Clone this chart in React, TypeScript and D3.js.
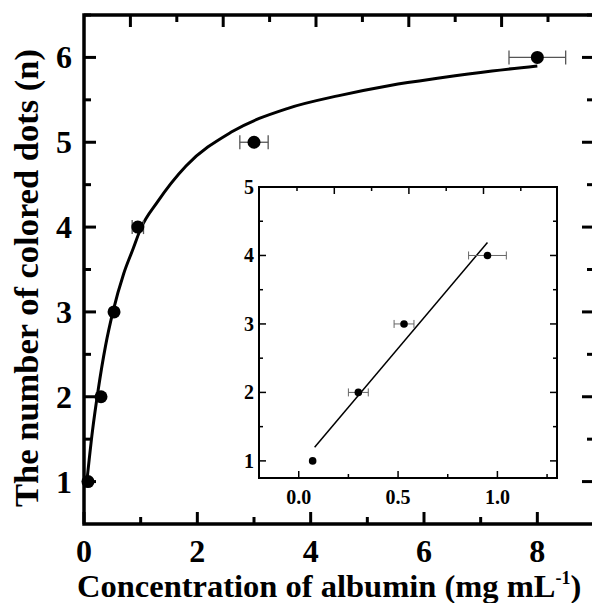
import * as d3 from 'd3'
import { useEffect, useRef } from 'react'

// main plot: measured points
const conc = [0.07, 0.3, 0.53, 0.95, 3.0, 8.0]
const dots = [1, 2, 3, 4, 5, 6]
const concErr = [0.03, 0.05, 0.05, 0.1, 0.25, 0.5]

// main plot: fitted curve
const fitX = [0.05, 0.15, 0.25, 0.38, 0.51, 0.7, 0.87, 1.0, 1.3, 1.8, 2.6, 3.6, 4.5, 5.4, 6.3, 7.2, 8.0]
const fitY = [1.0, 1.6, 2.08, 2.6, 3.0, 3.45, 3.75, 3.98, 4.3, 4.72, 5.12, 5.4, 5.55, 5.67, 5.76, 5.84, 5.9]

// inset: low concentration range
const insetConc = [0.07, 0.3, 0.53, 0.95]
const insetDots = [1, 2, 3, 4]
const insetErr = [0, 0.05, 0.05, 0.095]
const insetLineX = [0.08, 0.95]
const insetLineY = [1.2, 4.19]

const xTicks = [0, 2, 4, 6, 8]
const yTicks = [1, 2, 3, 4, 5, 6]
const insetXTicks = [0.0, 0.5, 1.0]
const insetYTicks = [1, 2, 3, 4, 5]

const FONT = '"Liberation Serif", "Times New Roman", serif'

export default function App() {
  const ref = useRef<SVGSVGElement>(null)

  useEffect(() => {
    const svg = d3.select(ref.current)
    svg.selectAll('*').remove()

    const L = 84, R = 594, T = 15, B = 524
    const x = d3.scaleLinear().domain([0, 9]).range([L, R])
    const y = d3.scaleLinear().domain([0.5, 6.5]).range([B, T])
    // the top axis of the original uses its own spacing
    const xTop = d3.scaleLinear().domain([0, 5.5]).range([L, L + 5.5 * 92.8])

    const g = svg.append('g')

    // ticks (inward)
    const tick = (x1: number, y1: number, x2: number, y2: number, w = 3) =>
      g.append('line').attr('x1', x1).attr('y1', y1).attr('x2', x2).attr('y2', y2)
        .attr('stroke', '#000').attr('stroke-width', w)

    d3.range(0, 9.01, 1).forEach(v => {
      const big = v % 2 === 0
      tick(x(v), B, x(v), B - (big ? 12 : 7))
    })
    d3.range(0.5, 5.51, 0.5).forEach(v => {
      const big = Math.abs(v % 1 - 0.5) < 1e-6
      tick(xTop(v), T, xTop(v), T + (big ? 12 : 7))
    })
    d3.range(1, 6.51, 0.5).forEach(v => {
      const big = v % 1 === 0
      tick(L, y(v), L + (big ? 12 : 7), y(v))
      tick(R, y(v), R - (big ? 12 : 7), y(v))
    })

    // frame
    g.append('rect').attr('x', L).attr('y', T).attr('width', R - L).attr('height', B - T)
      .attr('fill', 'none').attr('stroke', '#000').attr('stroke-width', 3.5)

    // tick labels
    g.selectAll('text.xt').data(xTicks).join('text').attr('class', 'xt')
      .attr('x', d => x(d)).attr('y', 562).attr('text-anchor', 'middle')
      .attr('font-family', FONT).attr('font-weight', 'bold').attr('font-size', 32)
      .text(d => d)
    g.selectAll('text.yt').data(yTicks).join('text').attr('class', 'yt')
      .attr('x', L - 12).attr('y', d => y(d) + 11).attr('text-anchor', 'end')
      .attr('font-family', FONT).attr('font-weight', 'bold').attr('font-size', 32)
      .text(d => d)

    // axis titles
    const xt = g.append('text').attr('x', 77).attr('y', 597)
      .attr('font-family', FONT).attr('font-weight', 'bold').attr('font-size', 32.5)
    xt.append('tspan').text('Concentration of albumin (mg mL')
    xt.append('tspan').attr('font-size', 18).attr('dy', -13).text('-1')
    xt.append('tspan').attr('dy', 13).text(')')

    g.append('text').attr('transform', `translate(38, 278) rotate(-90)`)
      .attr('text-anchor', 'middle')
      .attr('font-family', FONT).attr('font-weight', 'bold').attr('font-size', 34.5)
      .text('The number of colored dots (n)')

    // fit curve
    const fit = fitX.map((v, i) => [v, fitY[i]] as [number, number])
    g.append('path').datum(fit)
      .attr('fill', 'none').attr('stroke', '#000').attr('stroke-width', 3)
      .attr('d', d3.line<[number, number]>().curve(d3.curveMonotoneX)
        .x(d => x(d[0])).y(d => y(d[1])))

    // error bars
    conc.forEach((c, i) => {
      const e = concErr[i]
      if (e * 56.7 < 4) return
      const yy = y(dots[i])
      g.append('line').attr('x1', x(c - e)).attr('x2', x(c + e)).attr('y1', yy).attr('y2', yy)
        .attr('stroke', '#555').attr('stroke-width', 1.3)
      ;[c - e, c + e].forEach(v => g.append('line').attr('x1', x(v)).attr('x2', x(v))
        .attr('y1', yy - 7).attr('y2', yy + 7).attr('stroke', '#555').attr('stroke-width', 1.3))
    })
    g.selectAll('circle.m').data(conc).join('circle').attr('class', 'm')
      .attr('cx', d => x(d)).attr('cy', (d, i) => y(dots[i])).attr('r', 6.5).attr('fill', '#000')

    // ---------- inset ----------
    const iL = 259, iR = 557, iT = 187, iB = 478
    const ix = d3.scaleLinear().domain([-0.2, 1.3]).range([iL, iR])
    const iy = d3.scaleLinear().domain([0.75, 5]).range([iB, iT])
    const ig = svg.append('g')
    const itick = (x1: number, y1: number, x2: number, y2: number) =>
      ig.append('line').attr('x1', x1).attr('y1', y1).attr('x2', x2).attr('y2', y2)
        .attr('stroke', '#000').attr('stroke-width', 1.5)

    d3.range(0, 1.26, 0.25).forEach(v => {
      const big = Math.abs(v * 2 - Math.round(v * 2)) < 1e-6
      itick(ix(v), iB, ix(v), iB - (big ? 7 : 4))
    })
    d3.range(0, 7, 1).forEach(k => {
      const px = 297 + k * 37.3
      itick(px, iT, px, iT + (k % 2 === 1 ? 7 : 4))
    })
    d3.range(1, 5.01, 0.5).forEach(v => {
      const big = v % 1 === 0
      itick(iL, iy(v), iL + (big ? 7 : 4), iy(v))
      itick(iR, iy(v), iR - (big ? 7 : 4), iy(v))
    })
    ig.append('rect').attr('x', iL).attr('y', iT).attr('width', iR - iL).attr('height', iB - iT)
      .attr('fill', 'none').attr('stroke', '#000').attr('stroke-width', 2)

    ig.selectAll('text.ixt').data(insetXTicks).join('text').attr('class', 'ixt')
      .attr('x', d => ix(d)).attr('y', 504).attr('text-anchor', 'middle')
      .attr('font-family', FONT).attr('font-weight', 'bold').attr('font-size', 20)
      .text(d => d.toFixed(1))
    ig.selectAll('text.iyt').data(insetYTicks).join('text').attr('class', 'iyt')
      .attr('x', iL - 5).attr('y', d => iy(d) + 7).attr('text-anchor', 'end')
      .attr('font-family', FONT).attr('font-weight', 'bold').attr('font-size', 20)
      .text(d => d)

    ig.append('line')
      .attr('x1', ix(insetLineX[0])).attr('y1', iy(insetLineY[0]))
      .attr('x2', ix(insetLineX[1])).attr('y2', iy(insetLineY[1]))
      .attr('stroke', '#000').attr('stroke-width', 1.5)

    insetConc.forEach((c, i) => {
      const e = insetErr[i]
      if (e === 0) return
      const yy = iy(insetDots[i])
      ig.append('line').attr('x1', ix(c - e)).attr('x2', ix(c + e)).attr('y1', yy).attr('y2', yy)
        .attr('stroke', '#666').attr('stroke-width', 1)
      ;[c - e, c + e].forEach(v => ig.append('line').attr('x1', ix(v)).attr('x2', ix(v))
        .attr('y1', yy - 4).attr('y2', yy + 4).attr('stroke', '#666').attr('stroke-width', 1))
    })
    ig.selectAll('circle.i').data(insetConc).join('circle').attr('class', 'i')
      .attr('cx', d => ix(d)).attr('cy', (d, i) => iy(insetDots[i])).attr('r', 3.8).attr('fill', '#000')
  }, [])

  return (
    <svg ref={ref} width={592} height={603}
      style={{ position: 'absolute', left: 0, top: 0, background: '#fff' }} />
  )
}
